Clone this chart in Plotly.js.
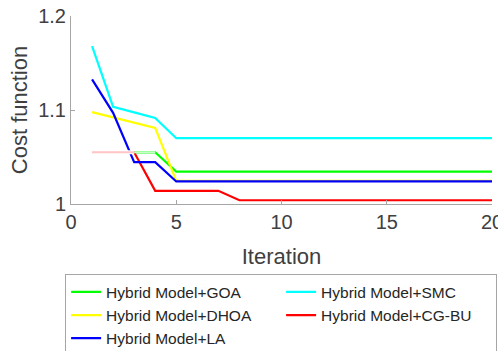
<!DOCTYPE html>
<html>
<head>
<meta charset="utf-8">
<script src="https://cdn.plot.ly/plotly-3.0.1.min.js"></script>
<style>html,body{margin:0;padding:0;background:#fff;}#chart{width:498px;height:351px;}</style>
</head>
<body>
<div id="chart"></div>
<script>
const iterations = [1,2,3,4,5,6,7,8,9,10,11,12,13,14,15,16,17,18,19,20];
const goa   = [1.055,1.055,1.055,1.055,1.0345,1.0345,1.0345,1.0345,1.0345,1.0345,1.0345,1.0345,1.0345,1.0345,1.0345,1.0345,1.0345,1.0345,1.0345,1.0345];
const dhoa  = [1.0977,1.092,1.0866,1.081,1.0245,1.0245,1.0245,1.0245,1.0245,1.0245,1.0245,1.0245,1.0245,1.0245,1.0245,1.0245,1.0245,1.0245,1.0245,1.0245];
const la    = [1.1326,1.097,1.0445,1.0445,1.024,1.024,1.024,1.024,1.024,1.024,1.024,1.024,1.024,1.024,1.024,1.024,1.024,1.024,1.024,1.024];
const smc   = [1.168,1.1034,1.0975,1.0916,1.070,1.070,1.070,1.070,1.070,1.070,1.070,1.070,1.070,1.070,1.070,1.070,1.070,1.070,1.070,1.070];
const cgbu  = [1.055,1.055,1.055,1.014,1.014,1.014,1.014,1.004,1.004,1.004,1.004,1.004,1.004,1.004,1.004,1.004,1.004,1.004,1.004,1.004];
const names = ['Hybrid Model+GOA','Hybrid Model+DHOA','Hybrid Model+LA','Hybrid Model+SMC','Hybrid Model+CG-BU'];
const colors = ['#00ff00','#ffff00','#0000ff','#00ffff','#ff0000'];
const xTicks = [0,5,10,15,20];
const yTicks = [1,1.1,1.2];

const series = [goa, dhoa, la, smc, cgbu];
// legend order column-major: GOA, SMC, DHOA, CG-BU, LA
const order = [0,3,1,4,2];
const traces = [];
traces.push({x: iterations.slice(0,4), y: goa.slice(0,4), mode:'lines', showlegend:false, hoverinfo:'skip',
  line:{color:'#ffffff', width:4}});
order.forEach(i => {
  traces.push({
    x: iterations, y: series[i], name: names[i], type: 'scatter', mode: 'lines',
    line: {color: colors[i], width: 2.2}
  });
});
// faint overlapping segments (as in the reference rendering)
traces.push({x: iterations.slice(0,3), y: cgbu.slice(0,3), mode:'lines', showlegend:false, hoverinfo:'skip',
  line:{color:'#ffffff', width:4}});
traces.push({x: iterations.slice(0,3), y: cgbu.slice(0,3), mode:'lines', showlegend:false, hoverinfo:'skip',
  line:{color:'#ffc4c4', width:2}});
traces.push({x: iterations.slice(2,4), y: goa.slice(2,4), mode:'lines', showlegend:false, hoverinfo:'skip',
  line:{color:'#c8ffc8', width:2}});

const axisCommon = {
  showgrid:false, zeroline:false, showline:true, linecolor:'#a6a6a6', linewidth:1,
  ticks:'inside', ticklen:4, tickcolor:'#a6a6a6', mirror:false, ticklabeloverflow:'allow',
  tickfont:{family:'Liberation Sans, Arial, sans-serif', size:20, color:'#404040'}
};
const layout = {
  width:498, height:351,
  margin:{l:71, r:6, t:16, b:147, autoexpand:false},
  paper_bgcolor:'#fff', plot_bgcolor:'#fff',
  font:{family:'Liberation Sans, Arial, sans-serif', color:'#404040'},
  xaxis: Object.assign({}, axisCommon, {range:[0,20], tickvals:xTicks, ticktext:xTicks.map(String),
    title:{text:'Iteration', font:{size:22, color:'#404040'}, standoff:16}}),
  yaxis: Object.assign({}, axisCommon, {range:[1,1.2], tickvals:yTicks, ticktext:yTicks.map(v=>String(v)),
    title:{text:'Cost function', font:{size:22, color:'#404040'}, standoff:4}}),
  showlegend:true,
  legend:{orientation:'h', x:-0.014, y:-0.374, xanchor:'left', yanchor:'top',
    bgcolor:'#fff', bordercolor:'#a6a6a6', borderwidth:1,
    font:{size:15.5, color:'#262626'}, entrywidth:170, entrywidthmode:'pixels', traceorder:'normal'}
};
Plotly.newPlot('chart', traces, layout, {staticPlot:true, displayModeBar:false});
</script>
</body>
</html>
